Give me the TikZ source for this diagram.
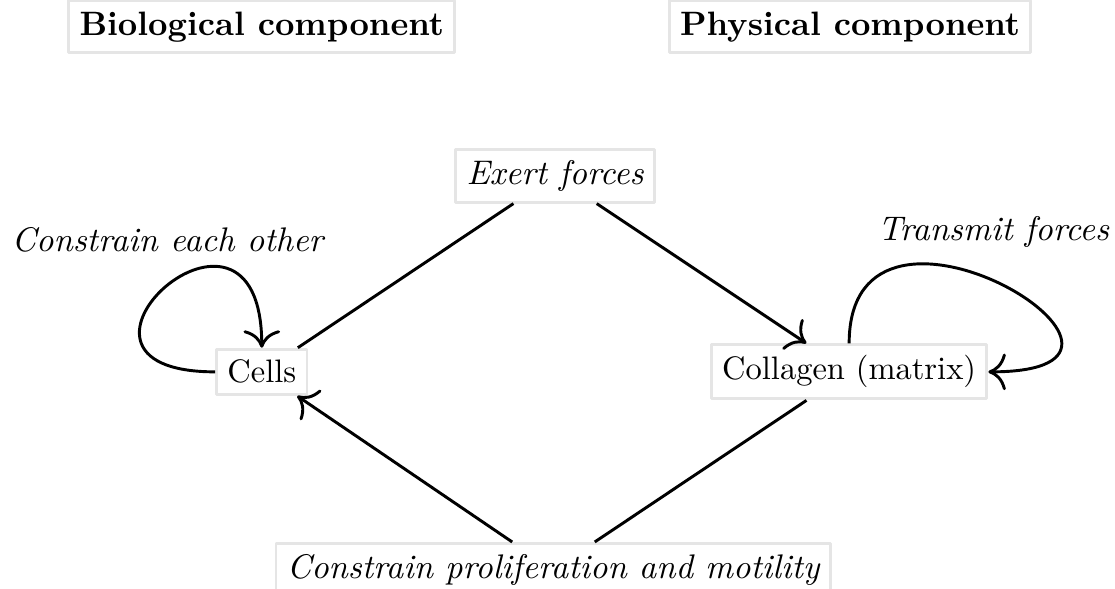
\documentclass[tikz,border=0pt]{standalone}
\usepackage{tikz}
\usetikzlibrary{arrows,arrows.meta}
\tikzset{box/.style={draw=black!10,fill=white}}
\tikzset{h/.style={font=\fontsize{10.4}{12}\selectfont\bfseries}}
\tikzset{l/.style={font=\fontsize{10.5}{12}\selectfont\itshape}}

\begin{document}
\begin{tikzpicture}[line join=round,line width=0.9pt,>={To[scale=1.5]}]
  \useasboundingbox (0,0) rectangle (12.054,-6.357);
  \node[box,h] (bio) at (2.83,-0.29) {Biological component};
  \node[box,h] (phys) at (9.19,-0.29) {Physical component};
  \node[box] (cells) at (2.83,-4.02) {Cells};
  \node[box] (coll) at (9.18,-4.02) {Collagen (matrix)};
  \node[box,l] (exert) at (6.0,-1.90) {Exert forces};
  \node[box,l] (constr) at (5.98,-6.16) {Constrain proliferation and motility};
  \draw (cells) -- (exert);
  \draw[->] (exert) -- (coll);
  \draw (coll) -- (constr);
  \draw[->] (constr) -- (cells);
  % self loops
  \draw[->] (cells.west) .. controls +(180:2.1) and +(90:2.1) .. (cells.north);
  \draw[->] (coll.north) .. controls +(90:2.1) and +(0:2.4) .. (coll.east);
  \node[l] (each) at (1.81,-2.59) {Constrain each other};
  \node[l] (trans) at (10.74,-2.51) {Transmit forces};
\end{tikzpicture}
\end{document}
